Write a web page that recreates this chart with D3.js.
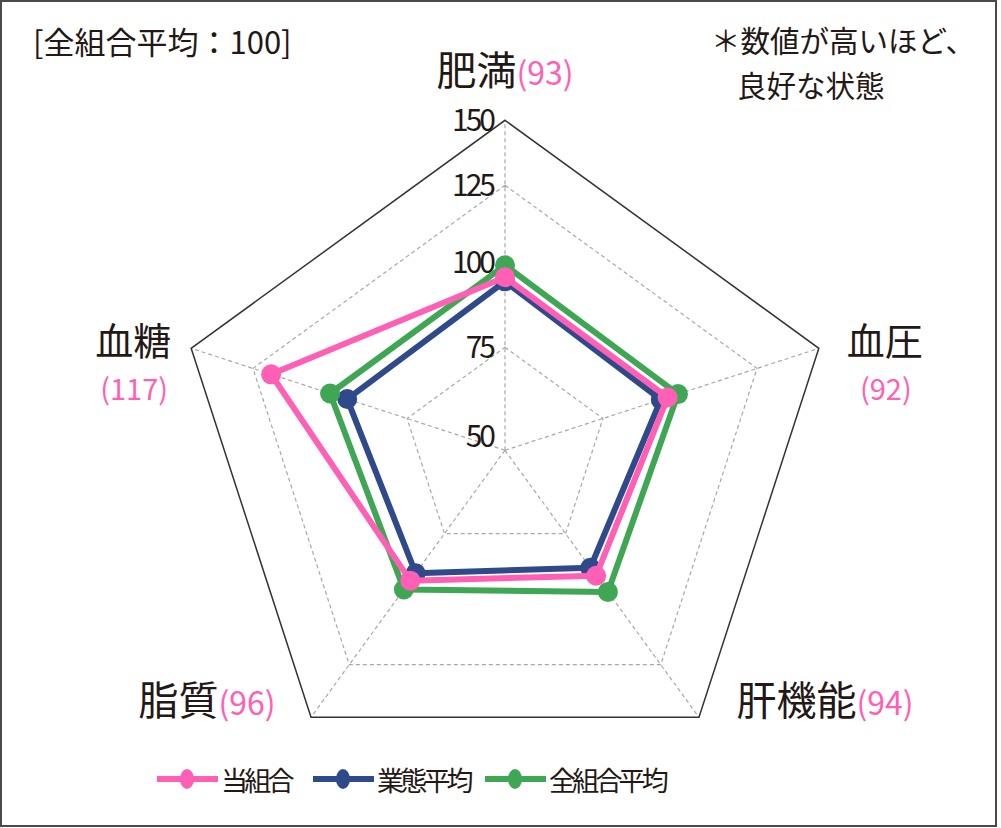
<!DOCTYPE html>
<html><head><meta charset="utf-8">
<script src="https://cdn.jsdelivr.net/npm/d3@7"></script>
<style>html,body{margin:0;padding:0;background:#fff;}svg{display:block;}</style>
</head><body><svg id="chart" width="1001" height="828"></svg>
<script>
// ---- data ----
const axes = ["肥満", "血圧", "肝機能", "脂質", "血糖"];
const ownValues = [95.6, 95.0, 90.3, 92.1, 118.8];      // 当組合 (plotted)
const industryValues = [94.4, 92.9, 87.4, 89.4, 93.5];  // 業態平均
const allValues = [99.1, 98.2, 96.2, 95.3, 98.8];       // 全組合平均
const ownLabels = ["93", "92", "94", "96", "117"];      // 当組合 value labels
const tickValues = [150, 125, 100, 75, 50];
const gridValues = [75, 125];
const seriesNames = ["当組合", "業態平均", "全組合平均"];
const titleText = "[全組合平均：100]";
const noteLines = ["＊数値が高いほど、", "良好な状態"];

// ---- layout ----
const cx = 505, cy = 450.3, R = 330;
const colors = ["#ff5fb4", "#2f4a8a", "#3fa654"];
const textColor = "#231815";
const font = "'Noto Sans CJK JP','Noto Sans',sans-serif";
const svg = d3.select("#chart");

const r = d3.scaleLinear().domain([50, 75, 100, 125, 150]).range([0, 103, 188, 265, R]);
const angle = d3.scaleLinear().domain([0, axes.length]).range([0, 2 * Math.PI]);
const pt = (i, v) => [cx + r(v) * Math.sin(angle(i)), cy - r(v) * Math.cos(angle(i))];

// border
svg.append("rect").attr("x", 1).attr("y", 1).attr("width", 995).attr("height", 825)
  .attr("fill", "#fff").attr("stroke", "#4a4a4a").attr("stroke-width", 2);

const line = d3.line().curve(d3.curveLinearClosed);

// dashed grid pentagons
svg.append("g").selectAll("path").data(gridValues).join("path")
  .attr("d", v => line(axes.map((a, i) => pt(i, v))))
  .attr("fill", "none").attr("stroke", "#a8a8a8").attr("stroke-width", 1.2)
  .attr("stroke-dasharray", "4,3");

// spokes
svg.append("g").selectAll("line").data(axes).join("line")
  .attr("x1", cx).attr("y1", cy)
  .attr("x2", (d, i) => pt(i, 150)[0]).attr("y2", (d, i) => pt(i, 150)[1])
  .attr("stroke", "#a8a8a8").attr("stroke-width", 1.2).attr("stroke-dasharray", "4,3");

// outer pentagon
svg.append("path").attr("d", line(axes.map((a, i) => pt(i, 150))))
  .attr("fill", "none").attr("stroke", "#333").attr("stroke-width", 1.5);

// tick labels
svg.append("g").selectAll("text").data(tickValues).join("text")
  .attr("x", cx - 12)
  .attr("y", v => cy - r(v) + (v === 50 ? -14 : 0))
  .attr("dy", "0.36em")
  .attr("text-anchor", "end")
  .attr("font-family", font).attr("font-size", 30).attr("letter-spacing", -3)
  .attr("fill", textColor)
  .text(v => v);

// series (draw order: industry, all, own)
const seriesData = [ownValues, industryValues, allValues];
const order = [1, 2, 0];
order.forEach(k => {
  const vals = seriesData[k];
  const pts = vals.map((v, i) => pt(i, v));
  const g = svg.append("g");
  g.append("path").attr("d", line(pts)).attr("fill", "none")
    .attr("stroke", colors[k]).attr("stroke-width", 6).attr("stroke-linejoin", "round");
  g.selectAll("circle").data(pts).join("circle")
    .attr("cx", d => d[0]).attr("cy", d => d[1]).attr("r", 10).attr("fill", colors[k]);
});

// axis labels
const labelLayout = [
  {dx: 0, dy: -35, mode: "inline"},
  {dx: 66, dy: 6.7, mode: "stack"},
  {dx: 126, dy: -2, mode: "inline"},
  {dx: -104, dy: -2, mode: "inline"},
  {dx: -58, dy: 6.7, mode: "stack"}
];
axes.forEach((a, i) => {
  const [vx, vy] = pt(i, 150);
  const L = labelLayout[i];
  const x = vx + L.dx, y = vy + L.dy;
  if (L.mode === "inline") {
    const t = svg.append("text").attr("x", x).attr("y", y).attr("text-anchor", "middle")
      .attr("font-family", font);
    t.append("tspan").attr("font-size", 40).attr("fill", textColor).text(a);
    t.append("tspan").attr("font-size", 32).attr("fill", colors[0]).text("(" + ownLabels[i] + ")");
  } else {
    svg.append("text").attr("x", x).attr("y", y).attr("text-anchor", "middle")
      .attr("font-family", font).attr("font-size", 38).attr("fill", textColor).text(a);
    svg.append("text").attr("x", x + 1).attr("y", y + 45).attr("text-anchor", "middle")
      .attr("font-family", font).attr("font-size", 29).attr("fill", colors[0])
      .text("(" + ownLabels[i] + ")");
  }
});

// title & note
svg.append("text").attr("x", 33).attr("y", 54).attr("font-family", font)
  .attr("font-size", 31).attr("fill", textColor).text(titleText);
svg.append("text").attr("x", 711).attr("y", 52).attr("font-family", font)
  .attr("font-size", 29.5).attr("fill", textColor).text(noteLines[0]);
svg.append("text").attr("x", 737).attr("y", 97).attr("font-family", font)
  .attr("font-size", 29.5).attr("fill", textColor).text(noteLines[1]);

// legend
const legendX = [157, 313, 485];
const legY = 779;
seriesNames.forEach((n, k) => {
  const x0 = legendX[k];
  svg.append("line").attr("x1", x0).attr("x2", x0 + 61).attr("y1", legY).attr("y2", legY)
    .attr("stroke", colors[k]).attr("stroke-width", 6);
  svg.append("ellipse").attr("cx", x0 + 30).attr("cy", legY).attr("rx", 7).attr("ry", 10)
    .attr("fill", colors[k]);
  svg.append("text").attr("x", x0 + 64).attr("y", legY + 12).attr("font-family", font)
    .attr("font-size", 27).attr("letter-spacing", -3.8).attr("fill", textColor).text(n);
});
</script></body></html>
